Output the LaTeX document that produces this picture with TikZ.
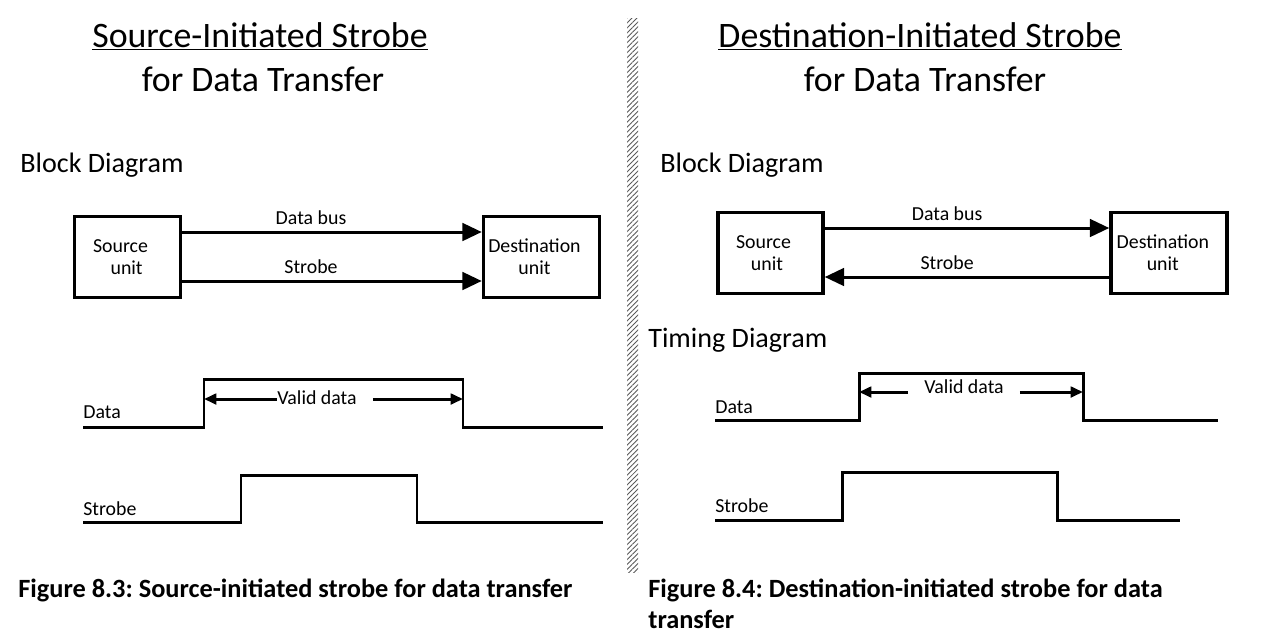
\documentclass[tikz,border=0pt]{standalone}
\usepackage{fontspec}
\setmainfont{Carlito}
\usetikzlibrary{arrows.meta,positioning,patterns.meta}
\frenchspacing

\begin{document}
\begin{tikzpicture}[
  x=0.02cm, y=-0.02cm,
  title/.style={anchor=base, inner sep=0, font=\fontsize{20.4}{24}\selectfont},
  head/.style={anchor=base west, inner sep=0, font=\fontsize{16}{19}\selectfont},
  unit/.style={draw, line width=2pt, minimum height=1.62cm, align=center, inner sep=0, font=\fontsize{11.3}{12.6}\selectfont},
  lbl/.style={inner sep=0, font=\fontsize{11.3}{13.5}\selectfont},
  capt/.style={anchor=base west, inner sep=0, font=\fontsize{15}{17}\selectfont\bfseries},
  arr/.style={-{Triangle[length=11pt, width=10pt]}, line width=1.7pt},
  tip/.style={-{Triangle[length=7pt, width=6pt]}, line width=1.7pt},
  wave/.style={line width=1.7pt}
]
  \useasboundingbox (0,0) rectangle (1262,640);

  % titles
  \node[title] (titleA) at (260,47) {\underline{Source-Initiated Strobe}};
  \node[title] (titleA2) at (263,91) {for Data Transfer};
  \node[title] (titleB) at (920,47) {\underline{Destination-Initiated Strobe}};
  \node[title] (titleB2) at (925,91) {for Data Transfer};

  % hatched divider
  \fill[pattern={Lines[angle=45, distance=2pt, line width=0.5pt]}, pattern color=black!65]
    (627,18) rectangle (638,572);

  % source-initiated: block diagram
  \node[head] (blockA) at (20,172) {Block Diagram};
  \node[unit, minimum width=2.12cm] (srcA) at (127.5,257) {\hspace*{-8pt}Source\\\hspace*{-1pt}unit};
  \node[unit, minimum width=2.32cm] (dstA) at (541.5,257) {\hspace*{-8pt}Destination\\\hspace*{-8pt}unit};
  \coordinate (busA) at (0,232);
  \coordinate (stbA) at (0,281);
  \draw[arr] (srcA.east |- busA) -- node[lbl, above=3.5pt, pos=0.43] (busAlbl) {Data bus} (dstA.west |- busA);
  \draw[arr] (srcA.east |- stbA) -- node[lbl, above=3.5pt, pos=0.43] (stbAlbl) {Strobe} (dstA.west |- stbA);

  % source-initiated: timing
  \draw[wave] (83,427) -- (204,427) -- (204,379) -- (463,379) -- (463,427) -- (603,427);
  \draw[wave] (83,522) -- (241,522) -- (241,475) -- (417,475) -- (417,522) -- (603,522);
  \node[lbl, anchor=base west] (dataA) at (83,418) {Data};
  \node[lbl, anchor=base west] (strobeA) at (83,515) {Strobe};
  \node[lbl, anchor=base] (validA) at (317,404) {Valid data};
  \coordinate (riseA) at (204,399);
  \coordinate (fallA) at (463,399);
  \draw[tip] (validA.west |- riseA) -- (riseA);
  \draw[tip] ([xshift=9pt]validA.east |- fallA) -- (fallA);

  \node[capt] (figA) at (18,597) {Figure 8.3: Source-initiated strobe for data transfer};

  % destination-initiated: block diagram
  \node[head] (blockB) at (660,172) {Block Diagram};
  \node[unit, minimum width=2.1cm] (srcB) at (770.5,253) {\hspace*{-8pt}Source\\\hspace*{-4pt}unit};
  \node[unit, minimum width=2.32cm] (dstB) at (1169,253) {\hspace*{-7pt}Destination\\\hspace*{-7pt}unit};
  \coordinate (busB) at (0,228);
  \coordinate (stbB) at (0,277);
  \draw[arr] (srcB.east |- busB) -- node[lbl, above=3.5pt, pos=0.43] (busBlbl) {Data bus} (dstB.west |- busB);
  \draw[arr] (dstB.west |- stbB) -- node[lbl, above=3.5pt, pos=0.57] (stbBlbl) {Strobe} (srcB.east |- stbB);

  % destination-initiated: timing
  \node[head] (timingB) at (648,347) {Timing Diagram};
  \draw[wave] (715,420) -- (859,420) -- (859,373) -- (1083,373) -- (1083,420) -- (1218,420);
  \draw[wave] (715,520) -- (842,520) -- (842,472) -- (1057,472) -- (1057,520) -- (1180,520);
  \node[lbl, anchor=base west] (dataB) at (715,413) {Data};
  \node[lbl, anchor=base west] (strobeB) at (715,512) {Strobe};
  \node[lbl, anchor=base] (validB) at (964,393) {Valid data};
  \coordinate (riseB) at (859,392);
  \coordinate (fallB) at (1083,392);
  \draw[tip] ([xshift=-9pt]validB.west |- riseB) -- (riseB);
  \draw[tip] ([xshift=9pt]validB.east |- fallB) -- (fallB);

  \node[capt] (figB) at (648,597) {Figure 8.4: Destination-initiated strobe for data};
  \node[capt] (figB2) at (648,628) {transfer};
\end{tikzpicture}
\end{document}
